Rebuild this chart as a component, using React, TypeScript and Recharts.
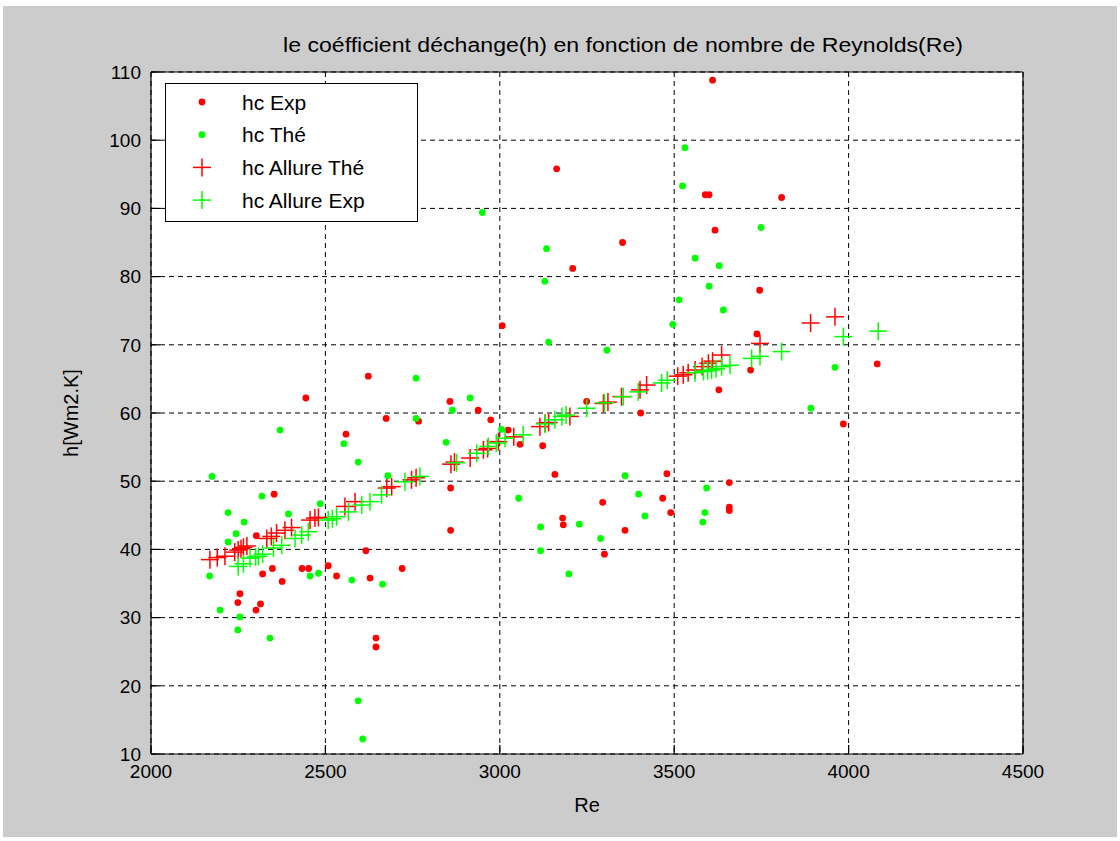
import React from 'react';
import {
  ScatterChart,
  Scatter,
  XAxis,
  YAxis,
  CartesianGrid,
  Legend,
  Label,
} from 'recharts';

// Measured heat-transfer coefficient (red dots)
const expRe = [
  3610, 3163, 3589, 3600, 3808, 3617, 3352, 3209, 3745, 3007, 3737, 4082, 3719, 3628, 2623,
  2444, 2857, 2938, 2974, 3249, 3404, 2674, 2767, 2559, 3024, 3058, 3123, 3158, 3479, 2859,
  2353, 3658, 3295, 3467, 3490, 3658, 3658, 2859, 3180, 3182, 3359, 3300, 2616, 2302, 2320,
  2348, 2433, 2452, 2508, 2532, 2628, 2720, 2376, 2255, 2249, 2314, 2301, 2645, 2645, 3985,
];
const expH = [
  108.8, 95.8, 92.0, 92.0, 91.6, 86.8, 85.0, 81.2, 78.0, 72.8, 71.6, 67.2, 66.3, 63.4, 65.4,
  62.2, 61.7, 60.4, 59.0, 61.7, 60.0, 59.2, 58.8, 56.9, 57.5, 55.4, 55.2, 51.0, 51.1, 49.0,
  48.1, 49.8, 46.9, 47.5, 45.4, 46.2, 45.7, 42.8, 44.6, 43.6, 42.8, 39.3, 39.8, 42.0, 36.4,
  37.2, 37.2, 37.2, 37.6, 36.1, 35.8, 37.2, 35.3, 33.5, 32.2, 32.0, 31.1, 27.0, 25.7, 58.4,
];

// Theoretical heat-transfer coefficient (green dots)
const theRe = [
  3531, 3524, 2950, 3749, 3134, 3560, 3629, 3129, 3600, 3514, 3641, 3496, 3140, 3307, 2760,
  3961, 3892, 2864, 2760, 2915, 2370, 2553, 2846, 3005, 2594, 2175, 2679, 3359, 2318, 2221,
  2394, 2267, 2244, 2221, 2485, 3054, 3398, 3593, 3588, 3582, 3416, 3117, 3228, 3289, 3117,
  3198, 2456, 2480, 2576, 2664, 2168, 2198, 2255, 2249, 2341, 2594, 2607,
];
const theH = [
  98.9, 93.3, 89.4, 87.2, 84.1, 82.7, 81.6, 79.3, 78.6, 76.6, 75.1, 73.0, 70.4, 69.2, 65.1,
  66.7, 60.7, 60.4, 59.2, 62.2, 57.5, 55.5, 55.7, 57.6, 52.8, 50.7, 50.8, 50.8, 47.8, 45.4,
  45.2, 44.0, 42.3, 41.1, 46.7, 47.5, 48.1, 49.0, 45.4, 44.0, 44.9, 43.3, 43.7, 41.6, 39.8,
  36.4, 36.1, 36.5, 35.5, 34.9, 36.1, 31.1, 30.1, 28.2, 27.0, 17.8, 12.2,
];

// Trend of the theoretical coefficient (red crosses)
const allureTheRe = [
  2169, 2190, 2212, 2240, 2250, 2258, 2265, 2275, 2332, 2345, 2360, 2384, 2403, 2456, 2470,
  2480, 2556, 2585, 2676, 2690, 2747, 2760, 2860, 2870, 2915, 2953, 2965, 2996, 3040, 3115,
  3130, 3140, 3201, 3297, 3310, 3349, 3402, 3421, 3510, 3526, 3540, 3560, 3580, 3598, 3610,
  3636, 3746, 3891, 3961,
];
const allureTheH = [
  38.5, 38.8, 39.0, 39.6, 39.9, 40.1, 40.3, 40.5, 41.6, 41.9, 42.4, 42.8, 43.2, 44.3, 44.6,
  44.7, 46.3, 47.0, 49.0, 49.2, 50.2, 50.5, 52.5, 52.8, 53.4, 54.6, 54.8, 55.8, 56.5, 58.0,
  58.5, 58.6, 59.5, 61.4, 61.6, 62.4, 63.4, 64.1, 65.4, 65.6, 65.9, 66.3, 66.8, 67.3, 67.6,
  68.5, 70.2, 73.2, 74.1,
];

// Trend of the measured coefficient (green crosses)
const allureExpRe = [
  2250, 2265, 2284, 2300, 2308, 2320, 2351, 2375, 2413, 2432, 2451, 2508, 2520, 2532, 2566,
  2604, 2628, 2661, 2728, 2771, 2876, 2934, 2967, 2990, 3015, 3067, 3130, 3158, 3178, 3190,
  3249, 3300, 3354, 3397, 3464, 3480, 3560, 3584, 3596, 3607, 3620, 3636, 3660, 3722, 3746,
  3808, 3985, 4085,
];
const allureExpH = [
  37.5, 37.9, 38.7, 38.9, 39.0, 39.3, 40.2, 40.6, 41.6, 42.1, 42.6, 44.3, 44.5, 44.8, 45.5,
  46.5, 47.0, 48.0, 49.9, 50.7, 52.7, 54.1, 55.1, 55.6, 56.3, 56.8, 58.4, 59.0, 59.5, 59.7,
  60.7, 61.5, 62.4, 63.1, 64.4, 64.8, 65.9, 66.1, 66.2, 66.3, 66.5, 66.8, 67.0, 68.0, 68.3,
  69.0, 71.2, 72.0,
];

const reTicks = [2000, 2500, 3000, 3500, 4000, 4500];
const hTicks = [10, 20, 30, 40, 50, 60, 70, 80, 90, 100, 110];

const seriesNames = ['hc Exp', 'hc Thé', 'hc Allure Thé', 'hc Allure Exp'];
const titleText = 'le coéfficient déchange(h) en fonction de nombre de Reynolds(Re)';
const xLabelText = 'Re';
const yLabelText = 'h[Wm2.K]';

const RED = '#ff0000';
const GREEN = '#00ff00';
const FONT = '"Liberation Sans", Arial, sans-serif';

const toPoints = (re: number[], h: number[]) => re.map((r, i) => ({ re: r, h: h[i] }));

const expData = toPoints(expRe, expH);
const theData = toPoints(theRe, theH);
const allureTheData = toPoints(allureTheRe, allureTheH);
const allureExpData = toPoints(allureExpRe, allureExpH);

const dotShape = (color: string) => (props: any) => (
  <circle cx={props.cx} cy={props.cy} r={3.4} fill={color} stroke="none" />
);

const plusShape = (color: string) => (props: any) => {
  const { cx, cy } = props;
  const a = 9;
  return (
    <g>
      <line x1={cx - a} y1={cy} x2={cx + a} y2={cy} stroke={color} strokeWidth={1.5} />
      <line x1={cx} y1={cy - a} x2={cx} y2={cy + a} stroke={color} strokeWidth={1.5} />
    </g>
  );
};

const XTick = (props: any) => (
  <text x={props.x} y={props.y} dy="0.71em" textAnchor="middle" fontSize={19} fontFamily={FONT} fill="#000">
    {props.payload.value}
  </text>
);

const YTick = (props: any) => (
  <text x={props.x} y={props.y} dy="0.355em" textAnchor="end" fontSize={19} fontFamily={FONT} fill="#000">
    {props.payload.value}
  </text>
);

const legendMarkers = [
  { color: RED, kind: 'dot' },
  { color: GREEN, kind: 'dot' },
  { color: RED, kind: 'plus' },
  { color: GREEN, kind: 'plus' },
];

const renderLegend = () => (
  <svg width={253} height={139} style={{ display: 'block' }}>
    <rect x={0.5} y={0.5} width={252} height={138} fill="#fff" stroke="#000" strokeWidth={1} />
    {seriesNames.map((name, i) => {
      const cy = 19 + i * 32.7;
      const m = legendMarkers[i];
      return (
        <g key={name}>
          {m.kind === 'dot' ? (
            <circle cx={37} cy={cy} r={3.4} fill={m.color} />
          ) : (
            <g>
              <line x1={28} y1={cy} x2={46} y2={cy} stroke={m.color} strokeWidth={1.5} />
              <line x1={37} y1={cy - 9} x2={37} y2={cy + 9} stroke={m.color} strokeWidth={1.5} />
            </g>
          )}
          <text x={77} y={cy} dy="0.36em" fontSize={21} fontFamily={FONT} fill="#000">
            {name}
          </text>
        </g>
      );
    })}
  </svg>
);

export default function App() {
  return (
    <div
      style={{
        position: 'absolute',
        left: 0,
        top: 0,
        width: 1120,
        height: 841,
        background: '#ffffff',
        overflow: 'hidden',
      }}
    >
      <div
        style={{
          position: 'absolute',
          left: 3,
          top: 6,
          width: 1114,
          height: 831,
          background: '#cccccc',
        }}
      />
      <svg
        width={1120}
        height={60}
        style={{ position: 'absolute', left: 0, top: 0 }}
      >
        <text
          x={623}
          y={52}
          textAnchor="middle"
          fontSize={20}
          fontFamily={FONT}
          fill="#000"
          textLength={680}
          lengthAdjust="spacingAndGlyphs"
        >
          {titleText}
        </text>
      </svg>
      <div style={{ position: 'absolute', left: 0, top: 0 }}>
        <ScatterChart
          width={1120}
          height={841}
          margin={{ top: 71, right: 96, bottom: 47, left: 91 }}
        >
          <CartesianGrid
            xAxisId="b"
            yAxisId="l"
            stroke="#000"
            strokeDasharray="5 4"
            fill="#ffffff"
            fillOpacity={1}
          />
          <XAxis
            xAxisId="b"
            type="number"
            dataKey="re"
            orientation="bottom"
            domain={[2000, 4500]}
            ticks={reTicks}
            allowDataOverflow
            height={40}
            tickSize={-9}
            tickMargin={20}
            axisLine={{ stroke: '#000', strokeWidth: 1.2 }}
            tickLine={{ stroke: '#000', strokeWidth: 1.2 }}
            tick={<XTick />}
            interval={0}
          >
            <Label
              content={(p: any) => {
                const vb = p.viewBox || {};
                return (
                  <text
                    x={vb.x + vb.width / 2}
                    y={812}
                    textAnchor="middle"
                    fontSize={20}
                    fontFamily={FONT}
                    fill="#000"
                  >
                    {xLabelText}
                  </text>
                );
              }}
            />
          </XAxis>
          <XAxis
            xAxisId="t"
            type="number"
            dataKey="re"
            orientation="top"
            domain={[2000, 4500]}
            ticks={reTicks}
            allowDataOverflow
            height={1}
            tickSize={-9}
            axisLine={{ stroke: '#000', strokeWidth: 1.2 }}
            tickLine={{ stroke: '#000', strokeWidth: 1.2 }}
            tick={false}
            interval={0}
          />
          <YAxis
            yAxisId="l"
            type="number"
            dataKey="h"
            orientation="left"
            domain={[10, 110]}
            ticks={hTicks}
            allowDataOverflow
            width={60}
            tickSize={-9}
            tickMargin={19}
            axisLine={{ stroke: '#000', strokeWidth: 1.2 }}
            tickLine={{ stroke: '#000', strokeWidth: 1.2 }}
            tick={<YTick />}
            interval={0}
          >
            <Label
              content={(p: any) => {
                const vb = p.viewBox || {};
                const cy = vb.y + vb.height / 2;
                return (
                  <text
                    x={78}
                    y={cy}
                    transform={`rotate(-90 78 ${cy})`}
                    textAnchor="middle"
                    fontSize={20}
                    fontFamily={FONT}
                    fill="#000"
                  >
                    {yLabelText}
                  </text>
                );
              }}
            />
          </YAxis>
          <YAxis
            yAxisId="r"
            type="number"
            dataKey="h"
            orientation="right"
            domain={[10, 110]}
            ticks={hTicks}
            allowDataOverflow
            width={1}
            tickSize={-9}
            axisLine={{ stroke: '#000', strokeWidth: 1.2 }}
            tickLine={{ stroke: '#000', strokeWidth: 1.2 }}
            tick={false}
            interval={0}
          />
          <Legend
            layout="horizontal"
            verticalAlign="middle"
            align="center"
            content={renderLegend}
            wrapperStyle={{ position: 'absolute', left: 165, top: 83, width: 253, height: 139 }}
          />
          <Scatter
            name={seriesNames[0]}
            xAxisId="b"
            yAxisId="l"
            data={expData}
            fill={RED}
            shape={dotShape(RED)}
            isAnimationActive={false}
          />
          <Scatter
            name={seriesNames[1]}
            xAxisId="b"
            yAxisId="l"
            data={theData}
            fill={GREEN}
            shape={dotShape(GREEN)}
            isAnimationActive={false}
          />
          <Scatter
            name={seriesNames[2]}
            xAxisId="b"
            yAxisId="l"
            data={allureTheData}
            fill={RED}
            shape={plusShape(RED)}
            isAnimationActive={false}
          />
          <Scatter
            name={seriesNames[3]}
            xAxisId="b"
            yAxisId="l"
            data={allureExpData}
            fill={GREEN}
            shape={plusShape(GREEN)}
            isAnimationActive={false}
          />
        </ScatterChart>
      </div>
    </div>
  );
}
